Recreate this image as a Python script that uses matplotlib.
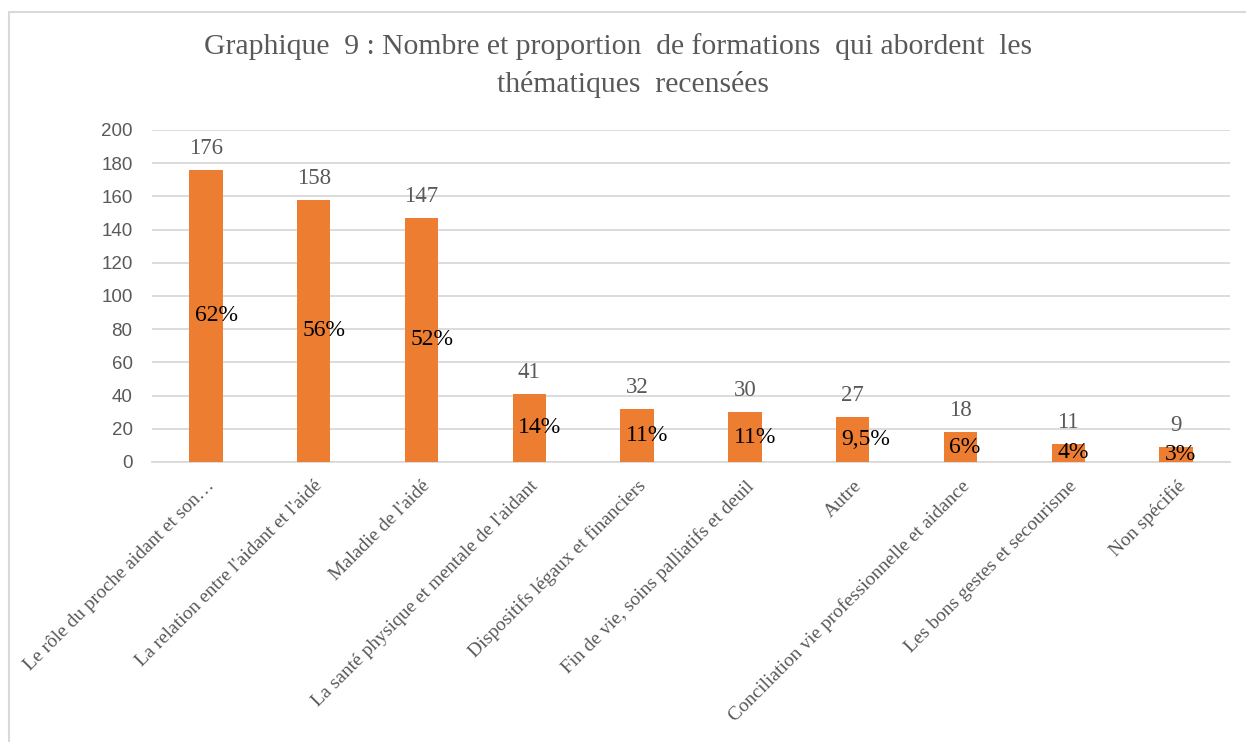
import matplotlib.pyplot as plt
from matplotlib.patches import Rectangle

# data
categories = [
    "Le rôle du proche aidant et son…",
    "La relation entre l'aidant et l'aidé",
    "Maladie de l'aidé",
    "La santé physique et mentale de l'aidant",
    "Dispositifs légaux et financiers",
    "Fin de vie, soins palliatifs et deuil",
    "Autre",
    "Conciliation vie professionnelle et aidance",
    "Les bons gestes et secourisme",
    "Non spécifié",
]
counts = [176, 158, 147, 41, 32, 30, 27, 18, 11, 9]
percent_labels = ["62%", "56%", "52%", "14%", "11%", "11%", "9,5%", "6%", "4%", "3%"]
yticks = [0, 20, 40, 60, 80, 100, 120, 140, 160, 180, 200]

title_line1 = "Graphique  9 : Nombre et proportion  de formations  qui abordent  les"
title_line2 = "thématiques  recensées"

serif = ["Liberation Serif", "DejaVu Serif"]
grey = "#595959"
orange = "#ED7D31"
grid_col = "#D9D9D9"
bar_w = 0.31

fig = plt.figure(figsize=(12.46, 7.42), dpi=100)
ax = fig.add_axes([152 / 1246, 1 - 462 / 742, 1078 / 1246, 332 / 742])

# chart frame (only top and left visible in the reference)
fig.patches.append(Rectangle((9 / 1246, -0.1), 1.2, 1.1 - 12 / 742,
                             transform=fig.transFigure, fill=False,
                             edgecolor=grid_col, linewidth=1.5))

x = list(range(len(categories)))
ax.bar(x, counts, width=bar_w, color=orange, zorder=3)

for xi, v, p in zip(x, counts, percent_labels):
    ax.annotate(str(v), (xi, v), xytext=(0, 8), textcoords="offset points",
                ha="center", va="bottom", fontsize=16.5, family=serif, color=grey)
    ax.annotate(p, (xi - bar_w / 2, v / 2), xytext=(4, 0), textcoords="offset points",
                ha="left", va="center", fontsize=17, family=serif, color="black",
                zorder=4)

ax.set_xlim(-0.5, len(categories) - 0.5)
ax.set_ylim(0, 200)
ax.set_yticks(yticks)
ax.yaxis.grid(True, color=grid_col, linewidth=1.3, zorder=0)
ax.set_axisbelow(True)

for s in ["top", "right", "left"]:
    ax.spines[s].set_visible(False)
ax.spines["bottom"].set_color(grid_col)
ax.spines["bottom"].set_linewidth(1.3)

ax.tick_params(axis="y", length=0, pad=14, labelsize=13.5, labelcolor=grey)
ax.tick_params(axis="x", length=0, pad=11)
ax.set_xticks(x)
ax.set_xticklabels(categories, rotation=45, ha="right", rotation_mode="anchor",
                   fontsize=14, family=serif, color=grey)
for lab in ax.get_yticklabels():
    lab.set_family(["Liberation Sans", "DejaVu Sans"])

# title, two lines placed as in the reference
fig.text(618 / 1246, 1 - 47 / 742, title_line1, ha="center", va="center",
         fontsize=21.3, family=serif, color=grey)
fig.text(633 / 1246, 1 - 85 / 742, title_line2, ha="center", va="center",
         fontsize=21.3, family=serif, color=grey)

fig.savefig("out.png", dpi=100)
